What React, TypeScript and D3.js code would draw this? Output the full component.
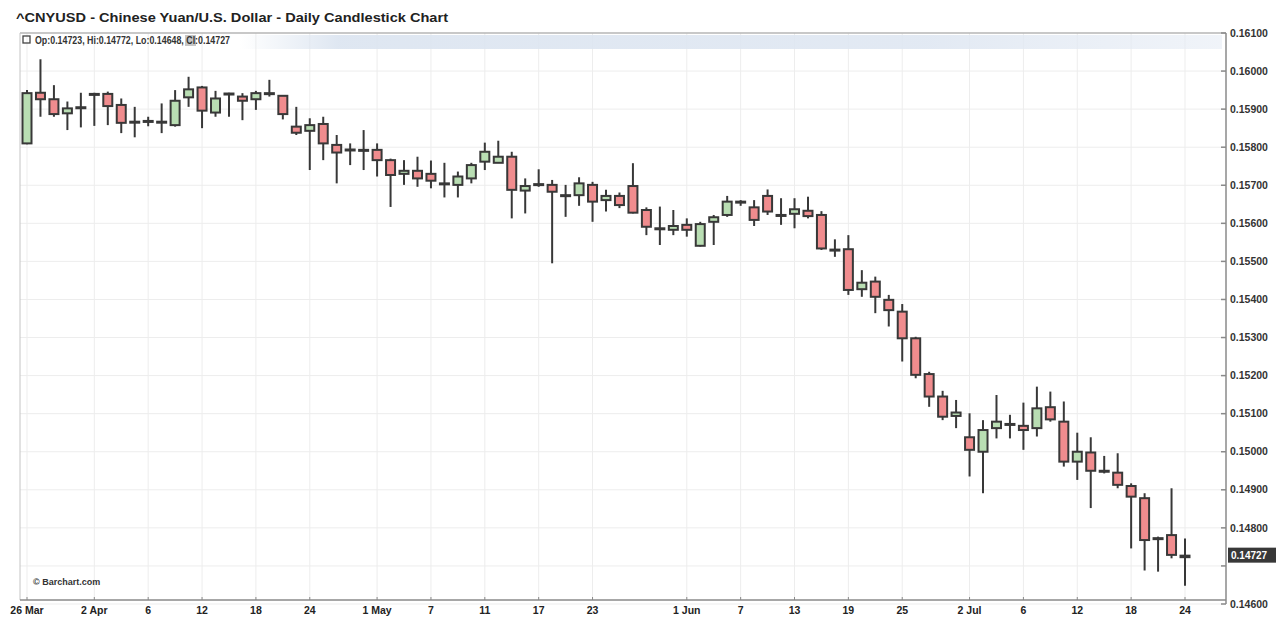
import React from 'react';
import * as d3 from 'd3';

const W = 1278;
const H = 618;
const margin = { top: 33, bottom: 604, left: 20, right: 1226 };

// trading days, 26 Mar - 24 Jul 2018 (weekdays)
const tradingDays = d3.timeDay
  .range(new Date(2018, 2, 26), new Date(2018, 6, 25))
  .filter(d => d.getDay() !== 0 && d.getDay() !== 6);
const dayKey = d3.timeFormat('%Y-%m-%d');

const opens = [
  0.15810, 0.15943, 0.15926, 0.15889, 0.15905, 0.15940, 0.15940, 0.15911, 0.15867, 0.15869,
  0.15867, 0.15858, 0.15931, 0.15957, 0.15891, 0.15941, 0.15933, 0.15926, 0.15942, 0.15935,
  0.15854, 0.15843, 0.15861, 0.15806, 0.15794, 0.15793, 0.15793, 0.15766, 0.15730, 0.15738,
  0.15730, 0.15705, 0.15701, 0.15718, 0.15762, 0.15759, 0.15775, 0.15686, 0.15703, 0.15701,
  0.15674, 0.15674, 0.15701, 0.15661, 0.15672, 0.15698, 0.15635, 0.15587, 0.15583, 0.15596,
  0.15541, 0.15604, 0.15622, 0.15657, 0.15642, 0.15672, 0.15622, 0.15625, 0.15633, 0.15622,
  0.15531, 0.15532, 0.15427, 0.15447, 0.15399, 0.15368, 0.15298, 0.15204, 0.15145, 0.15094,
  0.15038, 0.15000, 0.15062, 0.15073, 0.15068, 0.15062, 0.15117, 0.15079, 0.14974, 0.14998,
  0.14950, 0.14945, 0.14910, 0.14878, 0.14773, 0.14781, 0.14723,
];
const highs = [
  0.15950, 0.16031, 0.15963, 0.15920, 0.15943, 0.15943, 0.15946, 0.15928, 0.15906, 0.15880,
  0.15915, 0.15950, 0.15985, 0.15961, 0.15948, 0.15943, 0.15942, 0.15948, 0.15977, 0.15937,
  0.15906, 0.15876, 0.15880, 0.15832, 0.15810, 0.15845, 0.15810, 0.15770, 0.15766, 0.15775,
  0.15765, 0.15759, 0.15736, 0.15759, 0.15812, 0.15817, 0.15788, 0.15718, 0.15742, 0.15714,
  0.15701, 0.15721, 0.15709, 0.15688, 0.15681, 0.15758, 0.15642, 0.15644, 0.15635, 0.15613,
  0.15604, 0.15622, 0.15672, 0.15661, 0.15661, 0.15689, 0.15666, 0.15666, 0.15670, 0.15632,
  0.15558, 0.15569, 0.15477, 0.15460, 0.15412, 0.15388, 0.15302, 0.15210, 0.15160, 0.15136,
  0.15101, 0.15083, 0.15149, 0.15097, 0.15129, 0.15171, 0.15158, 0.15132, 0.15050, 0.15038,
  0.14989, 0.14996, 0.14917, 0.14891, 0.14777, 0.14904, 0.14772,
];
const lows = [
  0.15808, 0.15880, 0.15880, 0.15845, 0.15852, 0.15856, 0.15858, 0.15837, 0.15826, 0.15855,
  0.15837, 0.15854, 0.15906, 0.15850, 0.15880, 0.15880, 0.15871, 0.15898, 0.15933, 0.15873,
  0.15832, 0.15740, 0.15766, 0.15705, 0.15753, 0.15740, 0.15723, 0.15643, 0.15701, 0.15696,
  0.15692, 0.15668, 0.15668, 0.15705, 0.15740, 0.15759, 0.15613, 0.15626, 0.15696, 0.15495,
  0.15617, 0.15646, 0.15604, 0.15631, 0.15640, 0.15626, 0.15569, 0.15543, 0.15569, 0.15565,
  0.15539, 0.15543, 0.15617, 0.15646, 0.15593, 0.15622, 0.15596, 0.15587, 0.15613, 0.15530,
  0.15512, 0.15412, 0.15407, 0.15364, 0.15329, 0.15237, 0.15193, 0.15118, 0.15083, 0.15062,
  0.14935, 0.14891, 0.15035, 0.15035, 0.15005, 0.15040, 0.15079, 0.14961, 0.14926, 0.14852,
  0.14943, 0.14904, 0.14746, 0.14688, 0.14685, 0.14720, 0.14648,
];
const closes = [
  0.15942, 0.15926, 0.15887, 0.15902, 0.15904, 0.15938, 0.15908, 0.15864, 0.15866, 0.15868,
  0.15866, 0.15922, 0.15952, 0.15896, 0.15928, 0.15939, 0.15922, 0.15942, 0.15941, 0.15887,
  0.15838, 0.15858, 0.15810, 0.15786, 0.15793, 0.15792, 0.15766, 0.15727, 0.15738, 0.15718,
  0.15712, 0.15704, 0.15723, 0.15753, 0.15788, 0.15775, 0.15688, 0.15698, 0.15702, 0.15683,
  0.15673, 0.15705, 0.15657, 0.15672, 0.15648, 0.15628, 0.15591, 0.15586, 0.15593, 0.15583,
  0.15598, 0.15616, 0.15657, 0.15656, 0.15609, 0.15631, 0.15621, 0.15637, 0.15619, 0.15534,
  0.15530, 0.15425, 0.15444, 0.15407, 0.15372, 0.15298, 0.15202, 0.15145, 0.15092, 0.15103,
  0.15005, 0.15057, 0.15079, 0.15072, 0.15057, 0.15114, 0.15085, 0.14974, 0.15000, 0.14950,
  0.14949, 0.14913, 0.14882, 0.14768, 0.14772, 0.14729, 0.14727,
];

const tickDays = [
  '2018-03-26', '2018-04-02', '2018-04-06', '2018-04-12', '2018-04-18', '2018-04-24',
  '2018-05-01', '2018-05-07', '2018-05-11', '2018-05-17', '2018-05-23', '2018-06-01',
  '2018-06-07', '2018-06-13', '2018-06-19', '2018-06-25', '2018-07-02', '2018-07-06',
  '2018-07-12', '2018-07-18', '2018-07-24',
];
const tickLabels = [
  '26 Mar', '2 Apr', '6', '12', '18', '24', '1 May', '7', '11', '17', '23', '1 Jun',
  '7', '13', '19', '25', '2 Jul', '6', '12', '18', '24',
];

const title = '^CNYUSD - Chinese Yuan/U.S. Dollar - Daily Candlestick Chart';
const lastQuote = { open: '0.14723', high: '0.14772', low: '0.14648', close: '0.14727' };

const upFill = '#b9deb3';
const downFill = '#f08c8e';
const ink = '#383838';
const font = "'Liberation Sans', Arial, sans-serif";

export default function App() {
  const keys = tradingDays.map(dayKey);
  const x = d3.scalePoint<string>().domain(keys).range([27, 1185]);
  const y = d3.scaleLinear().domain([0.146, 0.161]).range([margin.bottom, margin.top]);
  const priceTicks = y.ticks(15);
  const fmt = d3.format('.5f');
  const lastClose = closes[closes.length - 1];

  return (
    <svg width={W} height={H} style={{ position: 'absolute', left: 0, top: 0, background: '#fff' }}
      fontFamily={font}>
      <defs>
        <linearGradient id="band" x1="0" x2="1" y1="0" y2="0">
          <stop offset="0" stopColor="#dbe4f0" stopOpacity={0} />
          <stop offset="0.1" stopColor="#dbe4f0" stopOpacity={0.9} />
          <stop offset="0.7" stopColor="#dfe7f2" stopOpacity={0.9} />
          <stop offset="1" stopColor="#e6ecf5" stopOpacity={0.6} />
        </linearGradient>
      </defs>
      <rect width={W} height={H} fill="#fff" />

      {/* grid */}
      {priceTicks.map(t => (
        <line key={'h' + t} x1={margin.left} x2={margin.right} y1={y(t)} y2={y(t)}
          stroke="#ededed" strokeWidth={1} />
      ))}
      {tickDays.map(d => (
        <line key={'v' + d} x1={x(d)} x2={x(d)} y1={margin.top} y2={600}
          stroke="#ededed" strokeWidth={1} />
      ))}

      <rect x={240} y={35} width={982} height={14} fill="url(#band)" />

      {/* frame */}
      <line x1={margin.left} x2={margin.right} y1={margin.top} y2={margin.top} stroke="#9a9a9a" />
      <line x1={margin.left} x2={margin.left} y1={margin.top} y2={600} stroke="#c4c4c4" />
      <line x1={margin.left} x2={margin.right} y1={600} y2={600} stroke="#8a8a8a" strokeWidth={1.5} />
      <line x1={margin.right} x2={margin.right} y1={margin.top} y2={margin.bottom} stroke="#8a8a8a" strokeWidth={1.5} />

      {/* header */}
      <text x={16} y={22} fontSize={13} fontWeight="bold" fill="#222" textLength={432}
        lengthAdjust="spacingAndGlyphs">{title}</text>
      <rect x={23} y={36} width={7} height={7} fill="none" stroke="#444" strokeWidth={1.3} />
      <rect x={185} y={35} width={11} height={11} fill="#c6c6c6" />
      <text x={35} y={43.5} fontSize={10} fontWeight="bold" fill="#333" textLength={195}
        lengthAdjust="spacingAndGlyphs">
        {`Op:${lastQuote.open}, Hi:${lastQuote.high}, Lo:${lastQuote.low}, Cl:${lastQuote.close}`}
      </text>

      <text x={33} y={585} fontSize={9} fontWeight="bold" fill="#333">© Barchart.com</text>

      {/* candles */}
      {keys.map((k, i) => {
        const o = opens[i];
        const c = closes[i];
        const cx = x(k) as number;
        const top = y(Math.max(o, c));
        const bot = y(Math.min(o, c));
        return (
          <g key={k}>
            <line x1={cx} x2={cx} y1={y(highs[i])} y2={y(lows[i])} stroke={ink} strokeWidth={2} />
            <rect x={cx - 4.5} y={top} width={9} height={Math.max(1, bot - top)}
              fill={c >= o ? upFill : downFill} stroke={ink} strokeWidth={2} />
          </g>
        );
      })}

      {/* right axis */}
      {priceTicks.map(t => (
        <g key={'t' + t}>
          <line x1={margin.right - 5} x2={margin.right} y1={y(t)} y2={y(t)} stroke="#8a8a8a" strokeWidth={1.5} />
          {Math.abs(t - 0.147) > 1e-9 && (
            <text x={1230} y={y(t)} dy="0.35em" fontSize={10.5} fontWeight="bold" fill="#333">
              {fmt(t)}
            </text>
          )}
        </g>
      ))}
      <rect x={1228} y={y(lastClose) - 8} width={48} height={15} fill="#383838" />
      <text x={1231} y={y(lastClose)} dy="0.35em" fontSize={10} fontWeight="bold" fill="#fff">
        {fmt(lastClose)}
      </text>

      {/* bottom axis */}
      {tickDays.map((d, i) => (
        <g key={'x' + d}>
          <line x1={x(d)} x2={x(d)} y1={597} y2={600} stroke="#8a8a8a" />
          <text x={x(d)} y={614} textAnchor="middle" fontSize={10.5} fontWeight="bold" fill="#222">
            {tickLabels[i]}
          </text>
        </g>
      ))}
    </svg>
  );
}
